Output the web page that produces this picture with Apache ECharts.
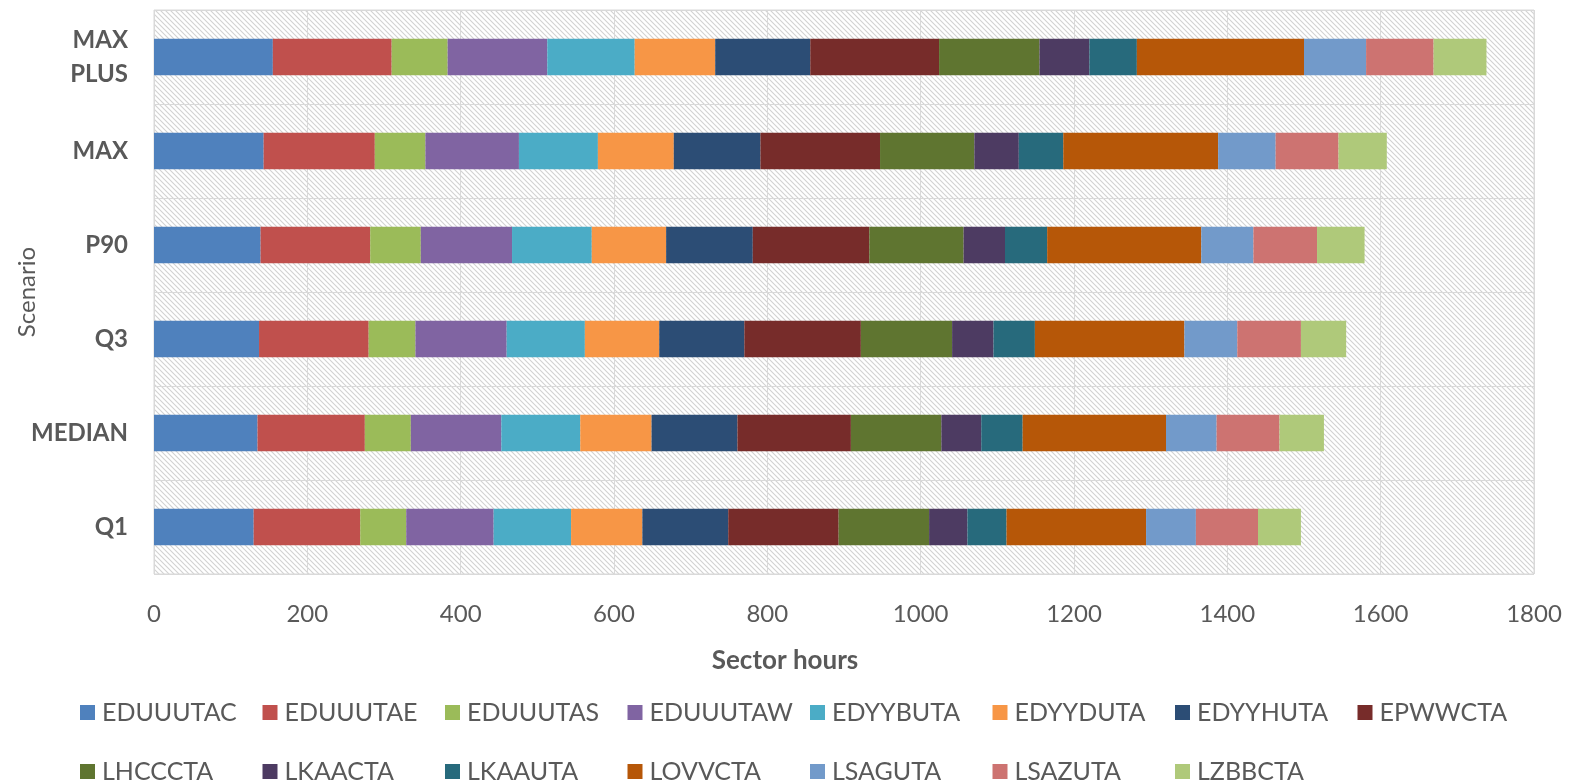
<!DOCTYPE html>
<html>
<head>
<meta charset="utf-8">
<title>Sector hours by scenario</title>
<script src="https://cdn.jsdelivr.net/npm/echarts@6/dist/echarts.min.js"></script>
<style>
  html, body { margin: 0; padding: 0; background: #ffffff; }
  #chart { width: 1574px; height: 781px; }
</style>
</head>
<body>
<div id="chart"></div>
<script>
// Scenarios, bottom to top
const scenarios = ['Q1', 'MEDIAN', 'Q3', 'P90', 'MAX', 'MAX PLUS'];

// Sectors (stack order, left to right)
const sectors = ['EDUUUTAC', 'EDUUUTAE', 'EDUUUTAS', 'EDUUUTAW', 'EDYYBUTA', 'EDYYDUTA', 'EDYYHUTA', 'EPWWCTA',
                 'LHCCCTA', 'LKAACTA', 'LKAAUTA', 'LOVVCTA', 'LSAGUTA', 'LSAZUTA', 'LZBBCTA'];

// Sector hours per scenario, one value per sector
const q1      = [130, 139, 60, 114, 101, 93, 112, 144, 118, 50, 51, 182, 65, 81, 56];
const median  = [135, 140, 60, 118, 103, 93, 112, 148, 118, 52, 54, 187, 66, 82, 58];
const q3      = [137, 143, 61, 119, 102, 97, 111, 152, 119, 54, 54, 195, 69, 83, 59];
const p90     = [139, 143, 66, 119, 104, 97, 113, 152, 123, 54, 55, 201, 68, 83, 62];
const max     = [143, 145, 66, 122, 103, 99, 113, 156, 123, 58, 58, 202, 75, 82, 63];
const maxPlus = [155, 155, 73, 130, 114, 105, 124, 168, 131, 65, 62, 218, 81, 88, 69];

const xTicks = [0, 200, 400, 600, 800, 1000, 1200, 1400, 1600, 1800];

const colors = ['#4F81BD', '#C0504D', '#9BBB59', '#8064A2', '#4BACC6', '#F79646', '#2C4D75', '#772C2A',
                '#5F7530', '#4D3B62', '#276A7C', '#B65708', '#729ACA', '#CD7371', '#AFC97A'];

const rows = [q1, median, q3, p90, max, maxPlus];

// Diagonal hatch fill for the plot area
function hatchTile() {
  const c = document.createElement('canvas');
  c.width = 5; c.height = 5;
  const g = c.getContext('2d');
  g.fillStyle = '#ffffff';
  g.fillRect(0, 0, 5, 5);
  g.strokeStyle = '#d2d2d2';
  g.lineWidth = 1.1;
  g.beginPath();
  g.moveTo(-1, -1); g.lineTo(6, 6);
  g.moveTo(-1, 4); g.lineTo(1, 6);
  g.moveTo(4, -1); g.lineTo(6, 1);
  g.stroke();
  return c;
}

const FONT = 'Lato, "Open Sans", sans-serif';
const GREY = '#595959';

const chart = echarts.init(document.getElementById('chart'), null, { renderer: 'canvas' });

const series = sectors.map((name, i) => ({
  name: name,
  type: 'bar',
  stack: 'total',
  barWidth: '38.6%',
  itemStyle: { color: colors[i] },
  data: rows.map(r => r[i])
}));

// Legend laid out as a fixed grid: 8 columns, 2 rows
const LEGEND_COLS = 8;
const legends = sectors.map((name, i) => ({
  data: [name],
  left: 75 + (i % LEGEND_COLS) * 182.5,
  top: 695 + Math.floor(i / LEGEND_COLS) * 59,
  itemWidth: 15,
  itemHeight: 15,
  itemGap: 0,
  icon: 'rect',
  selectedMode: false,
  textStyle: { color: GREY, fontSize: 25, fontFamily: FONT, padding: [0, 0, 0, 2] }
}));

chart.setOption({
  animation: false,
  textStyle: { fontFamily: FONT },
  color: colors,
  grid: {
    left: 154, right: 40, top: 10, bottom: 207,
    outerBoundsMode: 'none',
    show: true,
    backgroundColor: { image: hatchTile(), repeat: 'repeat' },
    borderColor: '#d9d9d9',
    borderWidth: 1
  },
  xAxis: {
    type: 'value',
    min: xTicks[0],
    max: xTicks[xTicks.length - 1],
    interval: xTicks[1] - xTicks[0],
    axisLine: { show: false },
    axisTick: { show: false },
    axisLabel: { color: GREY, fontSize: 24, margin: 28, fontFamily: FONT, formatter: v => String(v) },
    splitLine: { show: true, lineStyle: { color: '#d9d9d9', width: 1 } },
    name: 'Sector hours',
    nameLocation: 'middle',
    nameMoveOverlap: false,
    nameGap: 74,
    nameTextStyle: { color: GREY, fontSize: 26, fontWeight: 'bold', fontFamily: FONT, padding: [0, 118, 0, 0] }
  },
  yAxis: {
    type: 'category',
    data: scenarios,
    axisLine: { show: false },
    axisTick: { show: false },
    axisLabel: {
      color: GREY, fontSize: 24, fontWeight: 'bold', margin: 26, fontFamily: FONT,
      lineHeight: 34,
      formatter: v => v.replace(' ', '\n')
    },
    splitLine: { show: true, lineStyle: { color: '#d9d9d9', width: 1 } },
    name: 'Scenario',
    nameLocation: 'middle',
    nameMoveOverlap: false,
    nameRotate: 90,
    nameGap: 115,
    nameTextStyle: { color: GREY, fontSize: 24, fontFamily: FONT }
  },
  legend: legends,
  series: series
});
</script>
</body>
</html>
